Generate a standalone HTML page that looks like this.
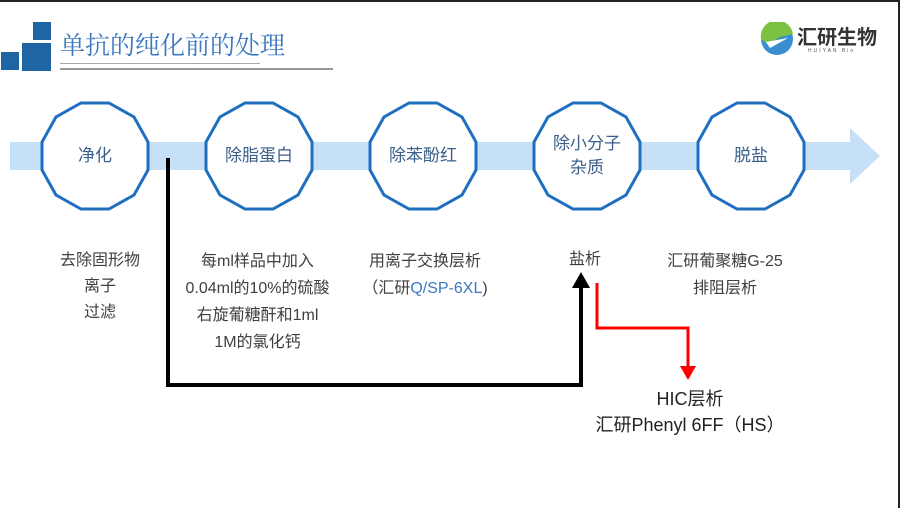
<!DOCTYPE html>
<html><head><meta charset="utf-8"><style>
body{margin:0;width:900px;height:508px;overflow:hidden;background:#fff;font-family:"Liberation Sans","Noto Sans CJK SC",sans-serif;position:relative}
.t{position:absolute;text-align:center;color:#404040;font-size:16px;line-height:24px}
</style></head><body>
<div style="position:absolute;left:0;top:0;width:900px;height:2px;background:#222"></div>
<div style="position:absolute;right:0;top:0;width:2px;height:508px;background:#222"></div>
<div style="position:absolute;left:33px;top:22px;width:18px;height:18px;background:#1f64a3"></div>
<div style="position:absolute;left:22px;top:43px;width:29px;height:28px;background:#1f64a3"></div>
<div style="position:absolute;left:1px;top:52px;width:18px;height:18px;background:#1f64a3"></div>
<div style="position:absolute;left:60px;top:26px;font-size:25px;color:#3b78c0;font-family:'Noto Serif CJK SC',serif">单抗的纯化前的处理</div>
<div style="position:absolute;left:60px;top:63px;width:200px;height:1px;background:#aaa"></div>
<div style="position:absolute;left:60px;top:68px;width:273px;height:2px;background:#999"></div>
<svg style="position:absolute;left:760px;top:22px" width="34" height="34"><circle cx="17" cy="17" r="16" fill="#3a8fd0"/><path d="M1 17A16 16 0 0 1 33 12L20 15 8 22Z" fill="#7cc242"/><path d="M6 20L28 16 10 26Z" fill="#fff"/></svg>
<div style="position:absolute;left:797px;top:21px;font-size:20px;font-weight:bold;color:#333">汇研生物</div>
<div style="position:absolute;left:808px;top:48px;font-size:5px;letter-spacing:2px;color:#555">HUIYAN Bio</div>
<svg style="position:absolute;left:0;top:0" width="900" height="508">
<polygon points="10,142 850,142 850,128 880,156 850,184 850,170 10,170" fill="#c5e0f7"/>
<g fill="#fff" stroke="#1f6fc0" stroke-width="3">
<polygon id="d" points="148,170 134,195 109,209 81,209 56,195 42,170 42,142 56,117 81,103 109,103 134,117 148,142"/>
<use href="#d" x="164"/><use href="#d" x="328"/><use href="#d" x="492"/><use href="#d" x="656"/>
</g>
<polyline points="168,158 168,385 581,385 581,285" fill="none" stroke="#000" stroke-width="4"/>
<polygon points="572,288 581,272 590,288" fill="#000"/>
<polyline points="597,283 597,328 688,328 688,370" fill="none" stroke="#f00" stroke-width="3"/>
<polygon points="680,366 688,380 696,366" fill="#f00"/>
</svg>
<div class="t" style="left:45px;top:144px;width:100px;color:#3b5f8a;font-size:17px">净化</div>
<div class="t" style="left:209px;top:144px;width:100px;color:#3b5f8a;font-size:17px">除脂蛋白</div>
<div class="t" style="left:373px;top:144px;width:100px;color:#3b5f8a;font-size:17px">除苯酚红</div>
<div class="t" style="left:537px;top:132px;width:100px;color:#3b5f8a;font-size:17px">除小分子<br>杂质</div>
<div class="t" style="left:701px;top:144px;width:100px;color:#3b5f8a;font-size:17px">脱盐</div>
<div class="t" style="left:45px;top:248px;width:110px;line-height:26px">去除固形物<br>离子<br>过滤</div>
<div class="t" style="left:170px;top:248px;width:175px;line-height:27px">每ml样品中加入<br>0.04ml的10%的硫酸<br>右旋葡糖酐和1ml<br>1M的氯化钙</div>
<div class="t" style="left:350px;top:248px;width:150px;line-height:27px">用离子交换层析<br>（汇研<span style="color:#3b78c0">Q/SP-6XL</span>)</div>
<div class="t" style="left:555px;top:248px;width:60px">盐析</div>
<div class="t" style="left:650px;top:248px;width:150px;line-height:27px">汇研葡聚糖G-25<br>排阻层析</div>
<div class="t" style="left:580px;top:386px;width:220px;font-size:18px;line-height:26px;color:#222">HIC层析<br>汇研Phenyl 6FF（HS）</div>
</body></html>
